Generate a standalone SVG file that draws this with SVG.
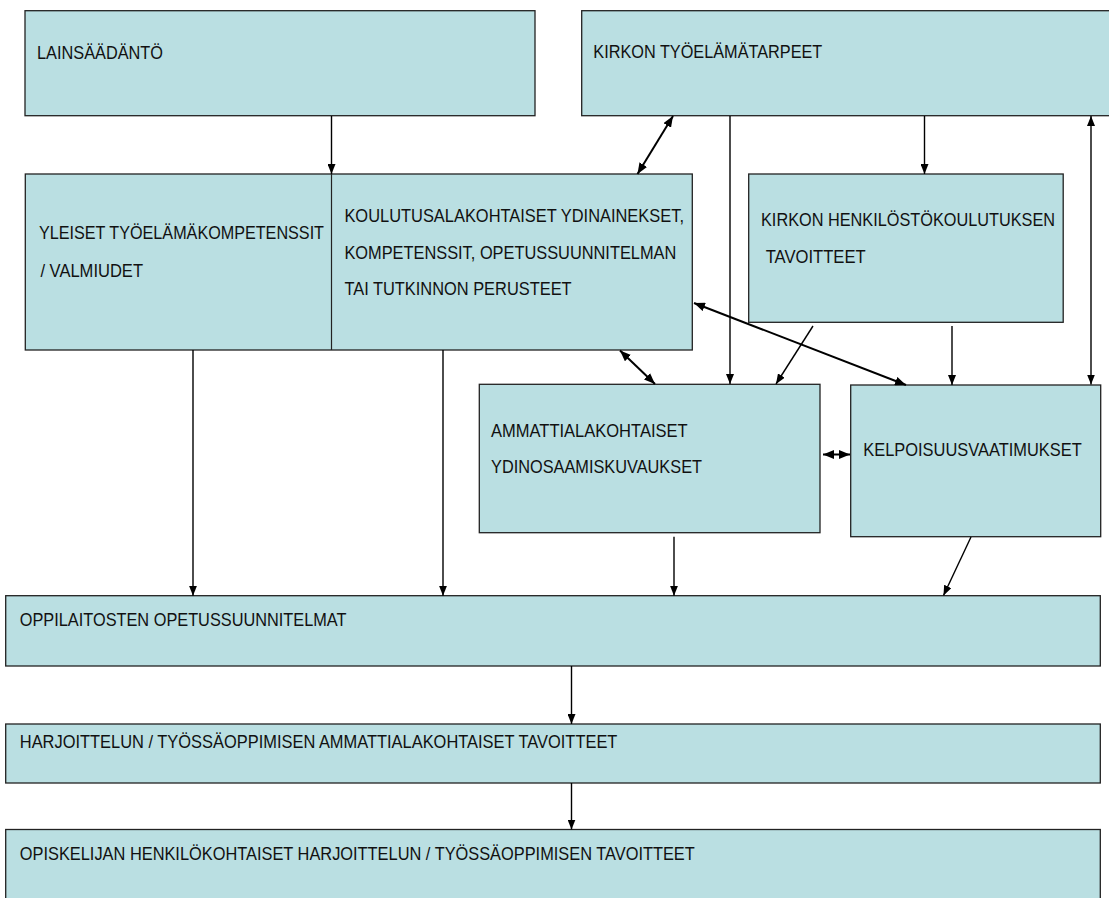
<svg xmlns="http://www.w3.org/2000/svg" width="1109" height="898" viewBox="0 0 1109 898">
<style>
.box{fill:#BADFE2;stroke:#222;stroke-width:1.3}
.t{font-family:"Liberation Sans",Arial,sans-serif;font-size:18.5px;fill:#111}
.c{stroke:#000;stroke-width:1.4;fill:none}
.c2{stroke:#000;stroke-width:2;fill:none}
</style>
<defs>
<marker id="ah" viewBox="0 0 10 8" refX="10" refY="4" markerWidth="10" markerHeight="8" markerUnits="userSpaceOnUse" orient="auto-start-reverse">
<path d="M0,0 L10,4 L0,8 z" fill="#000"/>
</marker>
<marker id="ah2" viewBox="0 0 10 8" refX="10" refY="4" markerWidth="11" markerHeight="9" markerUnits="userSpaceOnUse" orient="auto-start-reverse">
<path d="M0,0 L10,4 L0,8 z" fill="#000"/>
</marker>
</defs>
<rect width="1109" height="898" fill="#fff"/>
<g id="n-lainsaadanto">
<rect class="box" x="25" y="10.7" width="510" height="105"/>
<text class="t" x="37" y="59" textLength="126" lengthAdjust="spacingAndGlyphs">LAINSÄÄDÄNTÖ</text>
</g>
<g id="n-kirkon-tarpeet">
<rect class="box" x="581.7" y="10.7" width="540" height="105"/>
<text class="t" x="593.3" y="58.3" textLength="229" lengthAdjust="spacingAndGlyphs">KIRKON TYÖELÄMÄTARPEET</text>
</g>
<g id="n-yleiset-koulutus">
<rect class="box" x="25.3" y="174" width="667" height="176"/>
<line x1="331.5" y1="174" x2="331.5" y2="350" stroke="#222" stroke-width="1.2"/>
<text class="t" x="39" y="239" textLength="285" lengthAdjust="spacingAndGlyphs">YLEISET TYÖELÄMÄKOMPETENSSIT</text>
<text class="t" x="40.4" y="276.7" textLength="102.6" lengthAdjust="spacingAndGlyphs">/ VALMIUDET</text>
<text class="t" x="344.4" y="221.7" textLength="339.6" lengthAdjust="spacingAndGlyphs">KOULUTUSALAKOHTAISET YDINAINEKSET,</text>
<text class="t" x="344.4" y="259" textLength="331.9" lengthAdjust="spacingAndGlyphs">KOMPETENSSIT, OPETUSSUUNNITELMAN</text>
<text class="t" x="344.4" y="295" textLength="227.2" lengthAdjust="spacingAndGlyphs">TAI TUTKINNON PERUSTEET</text>
</g>
<g id="n-henkilosto">
<rect class="box" x="748.7" y="174" width="314.5" height="148.3"/>
<text class="t" x="761" y="226" textLength="294" lengthAdjust="spacingAndGlyphs">KIRKON HENKILÖSTÖKOULUTUKSEN</text>
<text class="t" x="765.7" y="262.7" textLength="100" lengthAdjust="spacingAndGlyphs">TAVOITTEET</text>
</g>
<g id="n-ammattiala">
<rect class="box" x="479.3" y="384.3" width="340.7" height="148.4"/>
<text class="t" x="491" y="437.3" textLength="196.6" lengthAdjust="spacingAndGlyphs">AMMATTIALAKOHTAISET</text>
<text class="t" x="491" y="473.3" textLength="211" lengthAdjust="spacingAndGlyphs">YDINOSAAMISKUVAUKSET</text>
</g>
<g id="n-kelpoisuus">
<rect class="box" x="850.7" y="385" width="250" height="151.7"/>
<text class="t" x="863.3" y="456" textLength="218.4" lengthAdjust="spacingAndGlyphs">KELPOISUUSVAATIMUKSET</text>
</g>
<g id="n-oppilaitosten">
<rect class="box" x="5.7" y="595.7" width="1094.6" height="70.3"/>
<text class="t" x="19.8" y="625.7" textLength="326.7" lengthAdjust="spacingAndGlyphs">OPPILAITOSTEN OPETUSSUUNNITELMAT</text>
</g>
<g id="n-harjoittelun">
<rect class="box" x="5.7" y="724" width="1094.6" height="59"/>
<text class="t" x="19.8" y="748.3" textLength="597.6" lengthAdjust="spacingAndGlyphs">HARJOITTELUN / TYÖSSÄOPPIMISEN AMMATTIALAKOHTAISET TAVOITTEET</text>
</g>
<g id="n-opiskelijan">
<rect class="box" x="5.7" y="829.5" width="1094.6" height="80"/>
<text class="t" x="19.8" y="860" textLength="675" lengthAdjust="spacingAndGlyphs">OPISKELIJAN HENKILÖKOHTAISET HARJOITTELUN / TYÖSSÄOPPIMISEN TAVOITTEET</text>
</g>
<g id="connectors">
<line class="c" x1="331.5" y1="116" x2="331.5" y2="174" marker-end="url(#ah)"/>
<line class="c2" x1="673" y1="116" x2="637.5" y2="174" marker-start="url(#ah2)" marker-end="url(#ah2)"/>
<line class="c" x1="730" y1="116" x2="730" y2="384" marker-end="url(#ah)"/>
<line class="c" x1="924.5" y1="116" x2="924.5" y2="174" marker-end="url(#ah)"/>
<line class="c" x1="1091" y1="384.5" x2="1091" y2="116" marker-start="url(#ah)" marker-end="url(#ah)"/>
<line class="c2" x1="620" y1="350.5" x2="655" y2="384" marker-start="url(#ah2)" marker-end="url(#ah2)"/>
<line class="c" x1="813" y1="326" x2="776" y2="384" marker-end="url(#ah)"/>
<line class="c" x1="952" y1="326" x2="952" y2="385" marker-end="url(#ah)"/>
<line class="c2" x1="694" y1="303" x2="906" y2="385" marker-start="url(#ah2)" marker-end="url(#ah2)"/>
<line class="c2" x1="823" y1="454.5" x2="850" y2="454.5" marker-start="url(#ah2)" marker-end="url(#ah2)"/>
<line class="c" x1="193" y1="350" x2="193" y2="595.7" marker-end="url(#ah)"/>
<line class="c" x1="443" y1="350" x2="443" y2="595.7" marker-end="url(#ah)"/>
<line class="c" x1="674" y1="536.7" x2="674" y2="595.7" marker-end="url(#ah)"/>
<line class="c" x1="971" y1="537" x2="943.5" y2="595.5" marker-end="url(#ah)"/>
<line class="c" x1="571.5" y1="666" x2="571.5" y2="724" marker-end="url(#ah)"/>
<line class="c" x1="571.5" y1="783" x2="571.5" y2="829.5" marker-end="url(#ah)"/>
</g>
</svg>
